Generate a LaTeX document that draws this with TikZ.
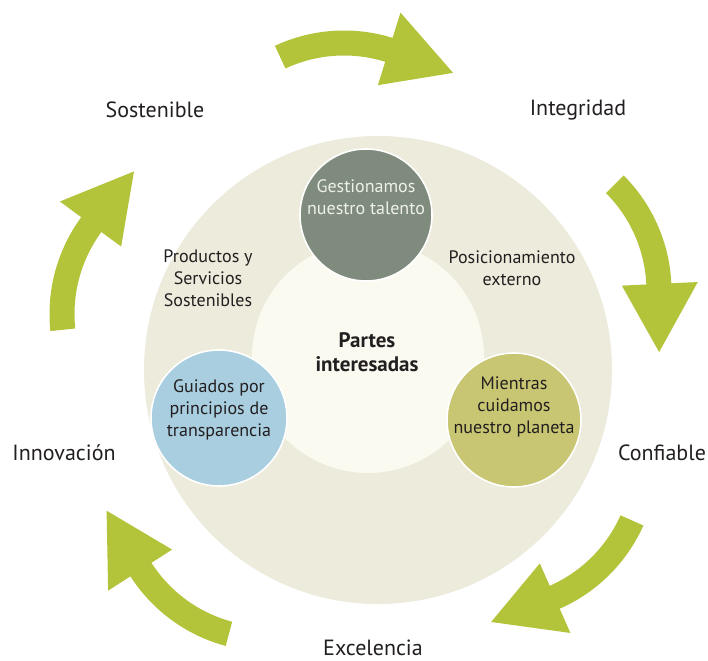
\documentclass[tikz,border=0pt]{standalone}
\usepackage{fontspec}
\setmainfont{PT Sans}
\usetikzlibrary{positioning}
\definecolor{arrowgreen}{HTML}{B4C43A}
\definecolor{discfill}{HTML}{ECEBDC}
\definecolor{innerfill}{HTML}{FBFAF1}
\definecolor{talento}{HTML}{7F8B7D}
\definecolor{talentotext}{HTML}{EEF0EA}
\definecolor{transparencia}{HTML}{A8CEE0}
\definecolor{planeta}{HTML}{C8C672}
\definecolor{textdark}{HTML}{231F20}

\begin{document}
\begin{tikzpicture}[
        x=0.5pt, y=0.5pt,
        bubble/.style={circle, draw=white, line width=0.8pt, inner sep=0pt},
        value/.style={font=\fontsize{11}{13.2}\selectfont, text=textdark},
        note/.style={font=\fontsize{9}{11}\selectfont, text=textdark, align=center},
        cyclearrow/.pic={
            \fill[arrowgreen] (0:163.5) arc[start angle=0, end angle=-42.3, radius=163.5]
                -- (-42.3:190) -- (-67:163) -- (-42.3:114) -- (-42.3:138.5)
                arc[start angle=-42.3, end angle=0, radius=138.5] -- cycle;
        },
    ]
    \path[use as bounding box, fill=white] (0,0) rectangle (708,660);

    % Draw the big disc and the inner circle
    \node[bubble, draw=none, fill=discfill, minimum size=234pt] (disco) at (378,290) {};
    \node[bubble, draw=none, fill=innerfill, minimum size=116pt] (partes) at (368,303) {};

    % Draw the three coloured circles
    \node[bubble, fill=talento, minimum size=66pt,
        label={[note, text=talentotext, yshift=9pt]center:{Gestionamos\\nuestro talento}}] (talento) at (366,445) {};
    \node[bubble, fill=transparencia, minimum size=68pt,
        label={[note, yshift=4pt]center:{Guiados por\\principios de\\transparencia}}] (transparencia) at (219,242) {};
    \node[bubble, fill=planeta, minimum size=67pt,
        label={[note, yshift=6.5pt]center:{Mientras\\cuidamos\\nuestro planeta}}] (planeta) at (514,240) {};

    % Texts on the disc
    \node[note, font=\bfseries\fontsize{10.5}{12}\selectfont] (interesadas) at (367,308) {Partes\\interesadas};
    \node[note] (productos) at (208,382) {Productos y\\Servicios\\Sostenibles};
    \node[note] (posicion) at (512,392) {Posicionamiento\\externo};

    % Draw the arrows round the disc
    \foreach \cx/\cy/\ang in {344/466/115, 508/369/45, 494/201/-24, 268/172/-105, 213/346/186}
        \pic[rotate=\ang] at (\cx,\cy) {cyclearrow};

    % Values between the arrows
    \foreach \name/\x/\y/\txt in {sostenible/155/550/Sostenible, integridad/578/550/Integridad,
        innovacion/64/207/Innovación, confiable/662/207/Confiable, excelencia/373/12/Excelencia}
        \node[value] (\name) at (\x,\y) {\txt};
\end{tikzpicture}
\end{document}
